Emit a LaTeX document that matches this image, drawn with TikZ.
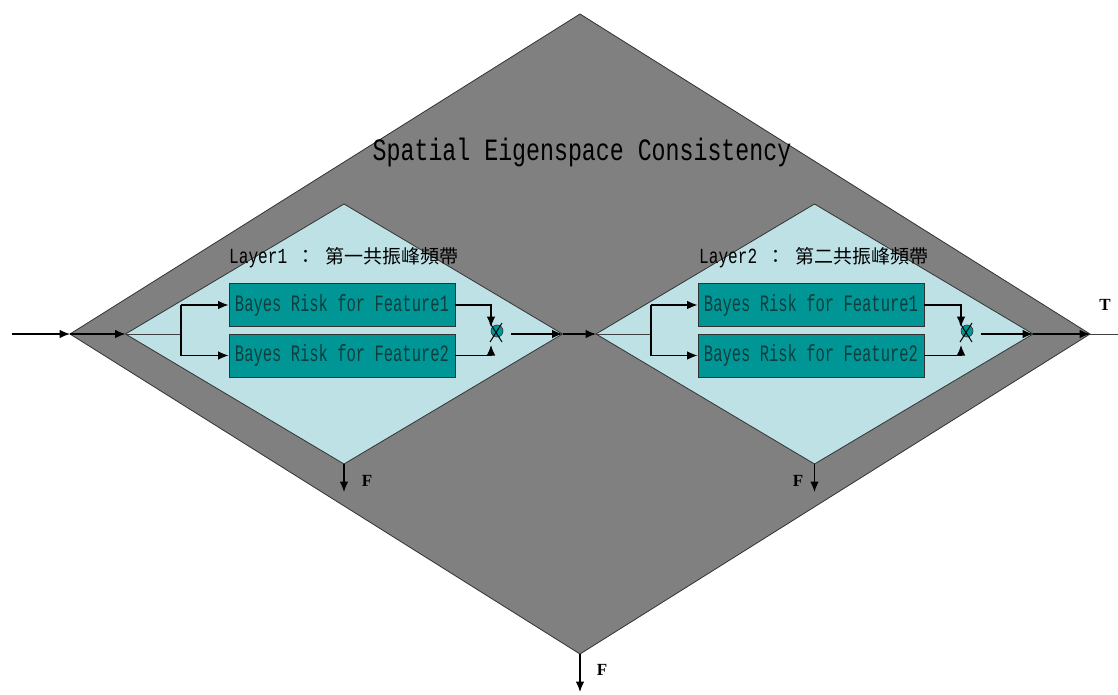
\documentclass[tikz,border=0pt]{standalone}
\usepackage{fontspec}
\usetikzlibrary{shapes.geometric,arrows.meta}
\newfontfamily\latfont[FakeStretch=0.75]{Liberation Mono}
\newfontfamily\boxfont[FakeStretch=0.66]{Liberation Mono}
\newfontfamily\cjkfont{Noto Sans CJK TC}
\newfontfamily\lblfont{Liberation Serif}
\definecolor{outergray}{RGB}{128,128,128}
\definecolor{innerblue}{RGB}{190,225,230}
\definecolor{boxteal}{RGB}{0,150,150}
\definecolor{boxtext}{RGB}{15,62,62}
\definecolor{edgegray}{RGB}{50,50,50}
\begin{document}
\begin{tikzpicture}[x=1pt,y=-1pt,
  outerdia/.style={diamond, draw=edgegray, fill=outergray, line width=0.8pt, inner sep=0pt, outer sep=0pt, minimum width=1020pt, minimum height=640pt},
  innerdia/.style={diamond, draw=edgegray, fill=innerblue, line width=0.8pt, inner sep=0pt, outer sep=0pt, minimum width=437pt, minimum height=260pt},
  riskbox/.style={rectangle, draw=edgegray, fill=boxteal, line width=0.9pt, minimum width=226pt, minimum height=43pt, inner sep=0pt, text=boxtext, font=\boxfont\fontsize{23.5}{24}\selectfont},
  mulnode/.style={circle, draw=edgegray, fill=boxteal, minimum size=12pt, inner sep=0pt, line width=0.6pt},
  flow/.style={line width=1.1pt, draw=black},
  thinflow/.style={line width=0.8pt, draw=black!75},
  arr/.style={flow, -{Latex[length=10.5pt,width=8.5pt]}},
  xmark/.style={line width=1pt, draw=black},
  tf/.style={font=\lblfont\bfseries\fontsize{17}{17}\selectfont},
  layerlbl/.style={anchor=west, inner sep=0pt}
]
\useasboundingbox (0,0) rectangle (1118,695);
% diamonds
\node[outerdia] (big) at (580,334) {};
\node[innerdia] (d1) at (344,334) {};
\node[innerdia] (d2) at (814.5,334) {};
% title
\node[font=\latfont\fontsize{31}{31}\selectfont] (title) at (582,152) {Spatial Eigenspace Consistency};
% layer labels
\node[layerlbl] (lab1) at (229,258) {{\latfont\fontsize{21.5}{22}\selectfont Layer1 }{\cjkfont\fontsize{19}{22}\selectfont ：}{\latfont\fontsize{21.5}{22}\selectfont\ }{\cjkfont\fontsize{19}{22}\selectfont 第一共振峰頻帶}};
\node[layerlbl] (lab2) at (699,258) {{\latfont\fontsize{21.5}{22}\selectfont Layer2 }{\cjkfont\fontsize{19}{22}\selectfont ：}{\latfont\fontsize{21.5}{22}\selectfont\ }{\cjkfont\fontsize{19}{22}\selectfont 第二共振峰頻帶}};
% boxes
\node[riskbox] (b11) at (342,305) {Bayes Risk for Feature1};
\node[riskbox] (b12) at (342,355.5) {Bayes Risk for Feature2};
\node[riskbox] (b21) at (811,305) {Bayes Risk for Feature1};
\node[riskbox] (b22) at (811,355.5) {Bayes Risk for Feature2};
% multiply nodes
\node[mulnode] (m1) at (497,331) {};
\node[mulnode] (m2) at (967,331) {};
\draw[xmark] (490,323) -- (502,342);
\draw[xmark] (502,323) -- (490,342);
\draw[xmark] (960,323) -- (972,342);
\draw[xmark] (972,323) -- (960,342);
% coordinates
\coordinate (in) at (12,334);
\coordinate (out) at (1118,334);
\coordinate (br1) at (181,334);
\coordinate (br1t) at (181,305);
\coordinate (br1b) at (181,355.5);
\coordinate (br2) at (651,334);
\coordinate (br2t) at (651,305);
\coordinate (br2b) at (651,355.5);
\coordinate (m1top) at (491,327);
\coordinate (m1bot) at (491,345);
\coordinate (m1out) at (511,334);
\coordinate (m2top) at (961,327);
\coordinate (m2bot) at (961,345);
\coordinate (m2out) at (981,334);
\coordinate (f1end) at (344,492);
\coordinate (f2end) at (814.5,492);
\coordinate (f3end) at (580,692);
% main flow
\draw[arr] (in) -- (big.west);
\draw[arr] (big.west) -- (d1.west);
\draw[thinflow] (d1.west) -- (br1);
\draw[flow] (br1t) -- (br1b);
\draw[arr] (br1t) -- (b11.west);
\draw[arr] (br1b) -- (b12.west);
\draw[arr] (b11.east) -| (m1top);
\draw[arr] (b12.east) -| (m1bot);
\draw[arr] (m1out) -- (d1.east);
\draw[arr] (d1.east) -- (d2.west);
\draw[thinflow] (d2.west) -- (br2);
\draw[flow] (br2t) -- (br2b);
\draw[arr] (br2t) -- (b21.west);
\draw[arr] (br2b) -- (b22.west);
\draw[arr] (b21.east) -| (m2top);
\draw[arr] (b22.east) -| (m2bot);
\draw[arr] (m2out) -- (d2.east);
\draw[arr] (d2.east) -- (big.east);
\draw[thinflow] (big.east) -- (out);
% false exits
\draw[arr] (d1.south) -- (f1end);
\draw[arr] (d2.south) -- (f2end);
\draw[arr] (big.south) -- (f3end);
% labels
\node[tf] (t1) at (1105,305) {T};
\node[tf] (fl1) at (367,481) {F};
\node[tf] (fl2) at (798,481) {F};
\node[tf] (fl3) at (602,670) {F};
\end{tikzpicture}
\end{document}
